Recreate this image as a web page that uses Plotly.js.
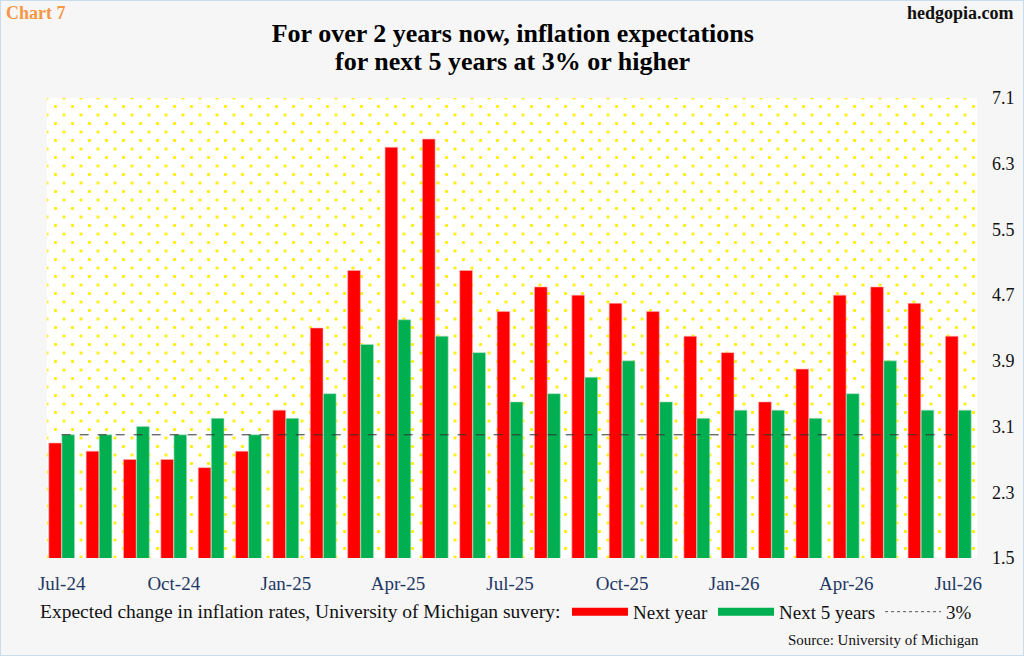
<!DOCTYPE html>
<html>
<head>
<meta charset="utf-8">
<script src="https://cdn.plot.ly/plotly-3.0.1.min.js"></script>
<style>
  html, body { margin: 0; padding: 0; }
  body { width: 1024px; height: 656px; overflow: hidden; background: #f6f7f8; }
  #wrap { position: relative; width: 1022px; height: 654px; border: 1px solid #c9dcec; background: #f6f6f6; }
  #dots { position: absolute; left: 46px; top: 97px; width: 930px; height: 460px;
    background-color: #ffffff;
    background-image: radial-gradient(circle, #ffee00 1.3px, transparent 1.7px), radial-gradient(circle, #ffee00 1.3px, transparent 1.7px);
    background-size: 17px 17px, 17px 17px;
    background-position: 0 0, 8.5px 8.5px; }
  #chart { position: absolute; left: 0; top: 0; width: 1022px; height: 654px; }
</style>
</head>
<body>
<div id="wrap">
  <div id="dots"></div>
  <div id="chart"></div>
</div>
<script>
const months = ["Jul-24","Aug-24","Sep-24","Oct-24","Nov-24","Dec-24",
  "Jan-25","Feb-25","Mar-25","Apr-25","May-25","Jun-25",
  "Jul-25","Aug-25","Sep-25","Oct-25","Nov-25","Dec-25",
  "Jan-26","Feb-26","Mar-26","Apr-26","May-26","Jun-26","Jul-26"];
const nextYear = [2.9,2.8,2.7,2.7,2.6,2.8,3.3,4.3,5.0,6.5,6.6,5.0,4.5,4.8,4.7,4.6,4.5,4.2,4.0,3.4,3.8,4.7,4.8,4.6,4.2];
const next5Years = [3.0,3.0,3.1,3.0,3.2,3.0,3.2,3.5,4.1,4.4,4.2,4.0,3.4,3.5,3.7,3.9,3.4,3.2,3.3,3.3,3.2,3.5,3.9,3.3,3.3];
const threshold = months.map(() => 3.0);
const tickMonths = ["Jul-24","Oct-24","Jan-25","Apr-25","Jul-25","Oct-25","Jan-26","Apr-26","Jul-26"];
const yTicks = [1.5,2.3,3.1,3.9,4.7,5.5,6.3,7.1];

const serif = "Liberation Serif, Times New Roman, serif";

const traces = [
  { type: "bar", name: "Next year", x: months, y: nextYear, showlegend: false,
    marker: { color: "#ff0000", line: { color: "#ffb0b0", width: 0.6 } } },
  { type: "bar", name: "Next 5 years", x: months, y: next5Years, showlegend: false,
    marker: { color: "#00b050", line: { color: "#a8e0bf", width: 0.6 } } },
  { type: "scatter", mode: "lines", name: "3%", x: months, y: threshold, showlegend: false,
    line: { color: "#333333", width: 1, dash: "dash" } },
  // legend entries (wide swatches as in the reference)
  { type: "scatter", mode: "lines", name: "Next year", x: [null], y: [null],
    line: { color: "#ff0000", width: 8 } },
  { type: "scatter", mode: "lines", name: "Next 5 years", x: [null], y: [null],
    line: { color: "#00b050", width: 8 } },
  { type: "scatter", mode: "lines", name: "3%", x: [null], y: [null],
    line: { color: "#555555", width: 1, dash: "dot" } }
];

const layout = {
  width: 1022, height: 654,
  margin: { l: 42, r: 46, t: 97, b: 97 },
  paper_bgcolor: "rgba(0,0,0,0)",
  plot_bgcolor: "rgba(0,0,0,0)",
  barmode: "group",
  bargap: 0.3,
  bargroupgap: 0.03,
  showlegend: true,
  legend: { orientation: "h", x: 0.561, xanchor: "left", y: -0.117, yanchor: "middle",
    font: { family: serif, size: 19, color: "#111" }, bgcolor: "rgba(0,0,0,0)",
    itemwidth: 56, tracegroupgap: 0, traceorder: "normal" },
  title: { text: "For over 2 years now, inflation expectations",
    xref: "paper", x: 0.503, xanchor: "center", yref: "container", y: 0.951, yanchor: "middle",
    font: { family: serif, size: 26, color: "#000", weight: "bold" } },
  xaxis: { type: "category", tickmode: "array", tickvals: tickMonths, ticktext: tickMonths,
    showgrid: false, zeroline: false, showline: false, ticks: "",
    ticklabelstandoff: 12,
    tickfont: { family: serif, size: 19, color: "#1f3864" } },
  yaxis: { side: "right", range: [1.5, 7.1], tickmode: "array", tickvals: yTicks,
    ticktext: yTicks.map(v => v.toFixed(1)),
    showgrid: false, zeroline: false, showline: false, ticks: "",
    ticklabelstandoff: 14,
    tickfont: { family: serif, size: 18, color: "#111" } },
  annotations: [
    { text: "for next 5 years at 3% or higher", xref: "paper", yref: "paper", x: 0.503, y: 1.080,
      xanchor: "center", yanchor: "middle", showarrow: false,
      font: { family: serif, size: 26, color: "#000", weight: "bold" } },
    { text: "Chart 7", xref: "paper", yref: "paper", x: -0.0418, y: 1.185, xanchor: "left", yanchor: "middle",
      showarrow: false, font: { family: serif, size: 18, color: "#f79646", weight: "bold" } },
    { text: "hedgopia.com", xref: "paper", yref: "paper", x: 1.0418, y: 1.185, xanchor: "right", yanchor: "middle",
      showarrow: false, font: { family: serif, size: 18, color: "#111", weight: "bold" } },
    { text: "Expected change in inflation rates, University of Michigan suvery:", xref: "paper", yref: "paper",
      x: -0.0054, y: -0.117, xanchor: "left", yanchor: "middle", showarrow: false,
      font: { family: serif, size: 19.5, color: "#111" } },
    { text: "Source: University of Michigan", xref: "paper", yref: "paper", x: 1.004, y: -0.178,
      xanchor: "right", yanchor: "middle", showarrow: false,
      font: { family: serif, size: 15, color: "#111" } }
  ]
};

Plotly.newPlot("chart", traces, layout, { displayModeBar: false, staticPlot: true });
</script>
</body>
</html>
